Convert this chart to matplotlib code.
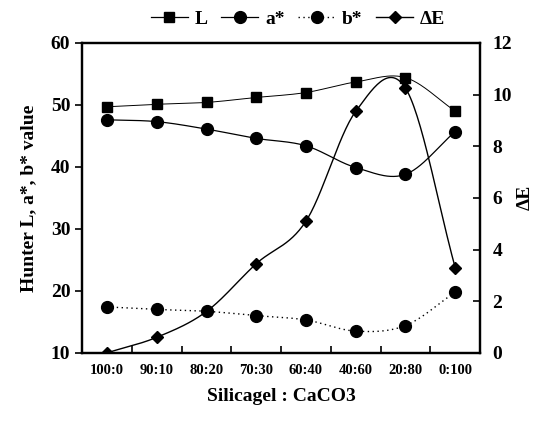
import numpy as np
import matplotlib
matplotlib.use("Agg")
import matplotlib.pyplot as plt
from matplotlib.lines import Line2D

plt.rcParams.update({"font.family": "Liberation Serif", "font.weight": "bold",
                     "axes.labelweight": "bold", "font.size": 13})

ratios = ["100:0", "90:10", "80:20", "70:30", "60:40", "40:60", "20:80", "0:100"]
L_val = [49.7, 50.1, 50.4, 51.2, 52.0, 53.7, 54.4, 49.0]
a_val = [47.6, 47.3, 46.1, 44.6, 43.4, 39.9, 38.8, 45.7]
b_val = [17.4, 17.0, 16.7, 16.0, 15.3, 13.5, 14.4, 19.8]
dE_val = [0.0, 0.6, 1.6, 3.45, 5.1, 9.35, 10.25, 3.3]


def smooth(y, n=30):
    # Catmull-Rom curve through the points, like a "smoothed line" in Excel
    y = np.asarray(y, float)
    x = np.arange(len(y), dtype=float)
    m = np.gradient(y)
    xs, ys = [], []
    for i in range(len(y) - 1):
        t = np.linspace(0, 1, n, endpoint=False)
        h00 = 2 * t**3 - 3 * t**2 + 1
        h10 = t**3 - 2 * t**2 + t
        h01 = -2 * t**3 + 3 * t**2
        h11 = t**3 - t**2
        xs.append(x[i] + t)
        ys.append(h00 * y[i] + h10 * m[i] + h01 * y[i + 1] + h11 * m[i + 1])
    xs.append([x[-1]]); ys.append([y[-1]])
    return np.concatenate(xs), np.concatenate(ys)


fig = plt.figure(figsize=(5.37, 4.21), dpi=100)
ax = fig.add_axes([0.153, 0.162, 0.741, 0.736])
ax2 = ax.twinx()
x = np.arange(len(ratios))

sx, sy = smooth(L_val)
ax.plot(sx, sy, color="k", lw=0.7)
ax.plot(x, L_val, "s", color="k", ms=7)
sx, sy = smooth(a_val)
ax.plot(sx, sy, color="k", lw=0.9)
ax.plot(x, a_val, "o", color="k", ms=8.5)
sx, sy = smooth(b_val)
ax.plot(sx, sy, color="k", lw=1.0, ls=(0, (1, 2.5)))
ax.plot(x, b_val, "o", color="k", ms=8.5)
sx, sy = smooth(dE_val)
ax2.plot(sx, sy, color="k", lw=1.0)
ax2.plot(x, dE_val, "D", color="k", ms=6.5)

ax.set_xlim(-0.5, len(ratios) - 0.5)
ax.set_ylim(10, 60)
ax2.set_ylim(0, 12)
ax.set_yticks(range(10, 61, 10))
ax2.set_yticks(range(0, 13, 2))
ax.set_xticks(x)
ax.set_xticklabels(ratios, fontsize=10.5)
ax.set_xticks(np.arange(0.5, len(ratios) - 1, 1), minor=True)
ax.tick_params(axis="x", which="major", length=0, pad=8)
ax.tick_params(axis="x", which="minor", direction="in", length=5, width=1.2)
ax.tick_params(axis="y", direction="out", length=5, width=1.2, labelsize=14)
ax2.tick_params(axis="y", direction="in", length=5, width=1.2, pad=9,
                labelsize=14)
for a in (ax, ax2):
    for s in a.spines.values():
        s.set_linewidth(1.6)

ax.set_ylabel("Hunter L, a*, b* value", fontsize=14, labelpad=10)
ax2.set_ylabel("ΔE", fontsize=14, labelpad=3)
ax.set_xlabel("Silicagel : CaCO3", fontsize=14, labelpad=8)

handles = [Line2D([], [], color="k", lw=0.9, marker="s", ms=7),
           Line2D([], [], color="k", lw=0.9, marker="o", ms=8.5),
           Line2D([], [], color="k", lw=1.0, ls=(0, (1, 2.5)), marker="o", ms=8.5),
           Line2D([], [], color="k", lw=1.0, marker="D", ms=6.5)]
fig.legend(handles, ["L", "a*", "b*", "ΔE"], loc="center", ncol=4,
           bbox_to_anchor=(0.555, 0.955), frameon=False, fontsize=14,
           handlelength=1.9, handletextpad=0.35, columnspacing=0.7)

fig.savefig("out.png", dpi=100)
